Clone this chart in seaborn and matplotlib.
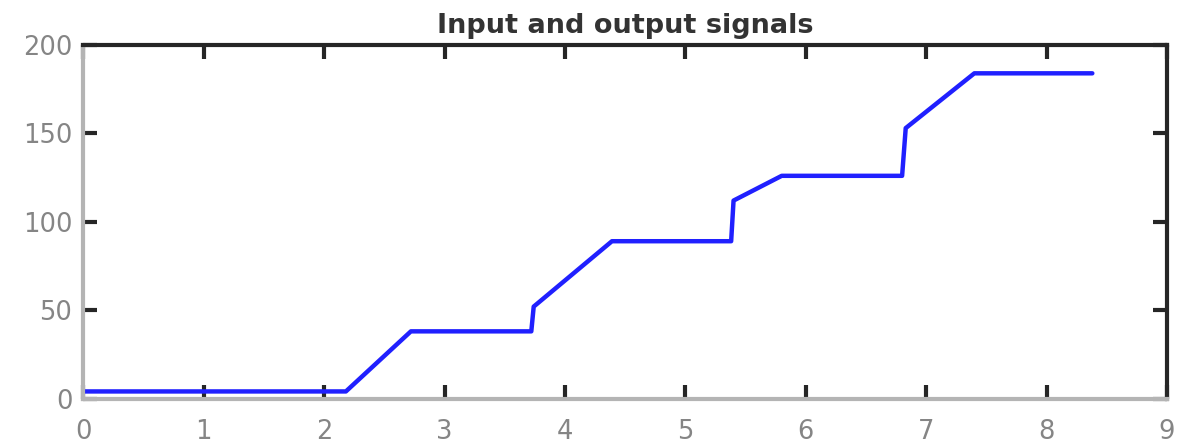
import matplotlib
matplotlib.use("Agg")
import matplotlib.pyplot as plt
import seaborn as sns
import pandas as pd

# Output signal: staircase with ramps between plateaus
time_s = [0.0, 2.18, 2.72, 3.72, 3.74, 4.39, 5.38, 5.40, 5.80, 6.80, 6.83, 7.40, 8.38]
signal = [4, 4, 38, 38, 52, 89, 89, 112, 126, 126, 153, 184, 184]

x_ticks = [0, 1, 2, 3, 4, 5, 6, 7, 8, 9]
y_ticks = [0, 50, 100, 150, 200]
title = "Input and output signals"

sns.set_theme(style="white")
plt.rcParams["font.family"] = ["DejaVu Sans"]

fig = plt.figure(figsize=(11.92, 4.46), dpi=100)
ax = fig.add_axes([0.070, 0.1065, 0.909, 0.7925])

df = pd.DataFrame({"t": time_s, "y": signal})
sns.lineplot(data=df, x="t", y="y", ax=ax, color="#2020ff", linewidth=3.2,
             estimator=None, sort=False)

ax.set_xlim(0, 9)
ax.set_ylim(0, 200)
ax.set_xticks(x_ticks)
ax.set_yticks(y_ticks)
ax.set_xlabel("")
ax.set_ylabel("")

dark = "#262626"
light = "#b4b4b4"
ax.spines["top"].set_color(dark)
ax.spines["right"].set_color(dark)
ax.spines["left"].set_color(light)
ax.spines["bottom"].set_color(light)
for s in ax.spines.values():
    s.set_linewidth(3)
    s.set_visible(True)

ax.tick_params(axis="both", which="major", direction="in", length=10, width=3,
               color=dark, labelcolor="#858585", labelsize=18.5,
               top=True, right=True, bottom=True, left=True)
ax.tick_params(axis="x", pad=15)
ax.tick_params(axis="y", pad=8)

ax.set_title(title, fontsize=19.5, fontweight="bold", color="#333333", pad=9)

fig.savefig("out.png", dpi=100, facecolor="white")
